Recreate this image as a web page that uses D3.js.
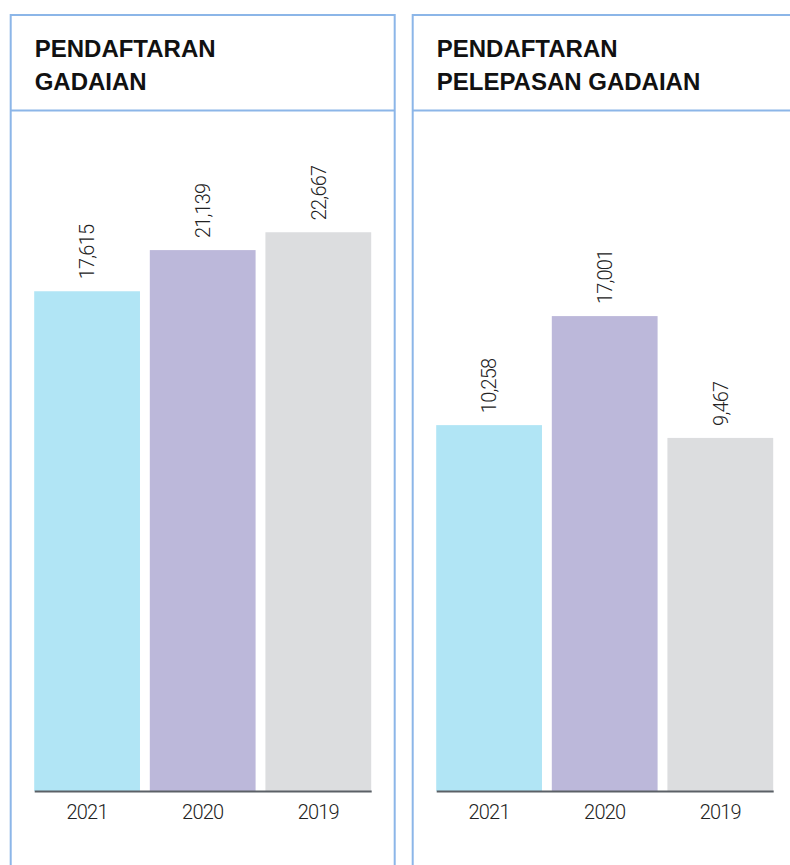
<!DOCTYPE html>
<html>
<head>
<meta charset="utf-8">
<script src="https://cdn.jsdelivr.net/npm/d3@7"></script>
<style>
  body { margin: 0; background: #fff; }
  svg { display: block; }
</style>
</head>
<body>
<svg id="chart"></svg>
<script>
// data
const years = ['2021', '2020', '2019'];
const gadaian = [17615, 21139, 22667];
const pelepasan = [10258, 17001, 9467];
const titlesLeft = ['PENDAFTARAN', 'GADAIAN'];
const titlesRight = ['PENDAFTARAN', 'PELEPASAN GADAIAN'];
const barColors = ['#b1e5f5', '#bcb8da', '#dcdddf'];

const width = 790;
const height = 865;

const svg = d3.select('#chart')
  .attr('width', width)
  .attr('height', height);

// one panel = bordered box, title, bar chart
const panelW = 384;
const baseline = 791;

const drawPanel = (left, titles, values, yMax, stub, span) => {
  const g = svg.append('g')
    .attr('transform', `translate(${left}, 0)`);

  // box
  g.append('path')
    .attr('d', `M0,${height + 5}V15H${panelW}V${height + 5}`)
    .attr('fill', 'none')
    .attr('stroke', '#8cb6e8')
    .attr('stroke-width', 2);

  g.append('line')
    .attr('x1', 0).attr('x2', panelW)
    .attr('y1', 110.5).attr('y2', 110.5)
    .attr('stroke', '#8cb6e8')
    .attr('stroke-width', 2);

  g.selectAll('.title')
    .data(titles)
    .enter().append('text')
    .attr('class', 'title')
    .attr('x', 24)
    .attr('y', (d, i) => 56.5 + i * 33)
    .style('font-family', '"Liberation Sans", Arial, sans-serif')
    .style('font-weight', 'bold')
    .style('font-size', '24px')
    .style('fill', '#111')
    .text(d => d);

  const x = d3.scaleBand()
    .domain(years)
    .range([23.5, 360.5])
    .paddingInner(0.085)
    .paddingOuter(0);

  // bars sit on a short stub below the value scale
  const y = d3.scaleLinear()
    .domain([0, yMax])
    .range([baseline - stub, baseline - stub - span]);

  g.selectAll('.bar')
    .data(values)
    .enter().append('rect')
    .attr('class', 'bar')
    .attr('x', (d, i) => x(years[i]))
    .attr('width', x.bandwidth())
    .attr('y', d => y(d))
    .attr('height', d => baseline - y(d))
    .attr('fill', (d, i) => barColors[i]);

  g.selectAll('.value')
    .data(values)
    .enter().append('text')
    .attr('class', 'value')
    .attr('transform', (d, i) =>
      `translate(${x(years[i]) + x.bandwidth() / 2}, ${y(d) - 12}) rotate(-90)`)
    .attr('dy', '0.36em')
    .style('font-family', 'Roboto, "Open Sans", sans-serif')
    .style('font-weight', 300)
    .style('font-size', '20px')
    .style('letter-spacing', '-0.8px')
    .style('fill', '#222')
    .text(d => d3.format(',')(d));

  const axis = g.append('g')
    .attr('transform', `translate(0, ${baseline})`)
    .call(d3.axisBottom(x).tickSize(0).tickPadding(14));

  axis.select('.domain')
    .attr('stroke', '#5b6066')
    .attr('stroke-width', 2);

  axis.selectAll('text')
    .style('font-family', 'Roboto, "Open Sans", sans-serif')
    .style('font-weight', 300)
    .style('font-size', '20px')
    .style('letter-spacing', '-0.8px')
    .style('fill', '#222');
};

drawPanel(10.7, titlesLeft, gadaian, 25000, 294, 292);
drawPanel(412.7, titlesRight, pelepasan, 20000, 200, 323.4);
</script>
</body>
</html>
